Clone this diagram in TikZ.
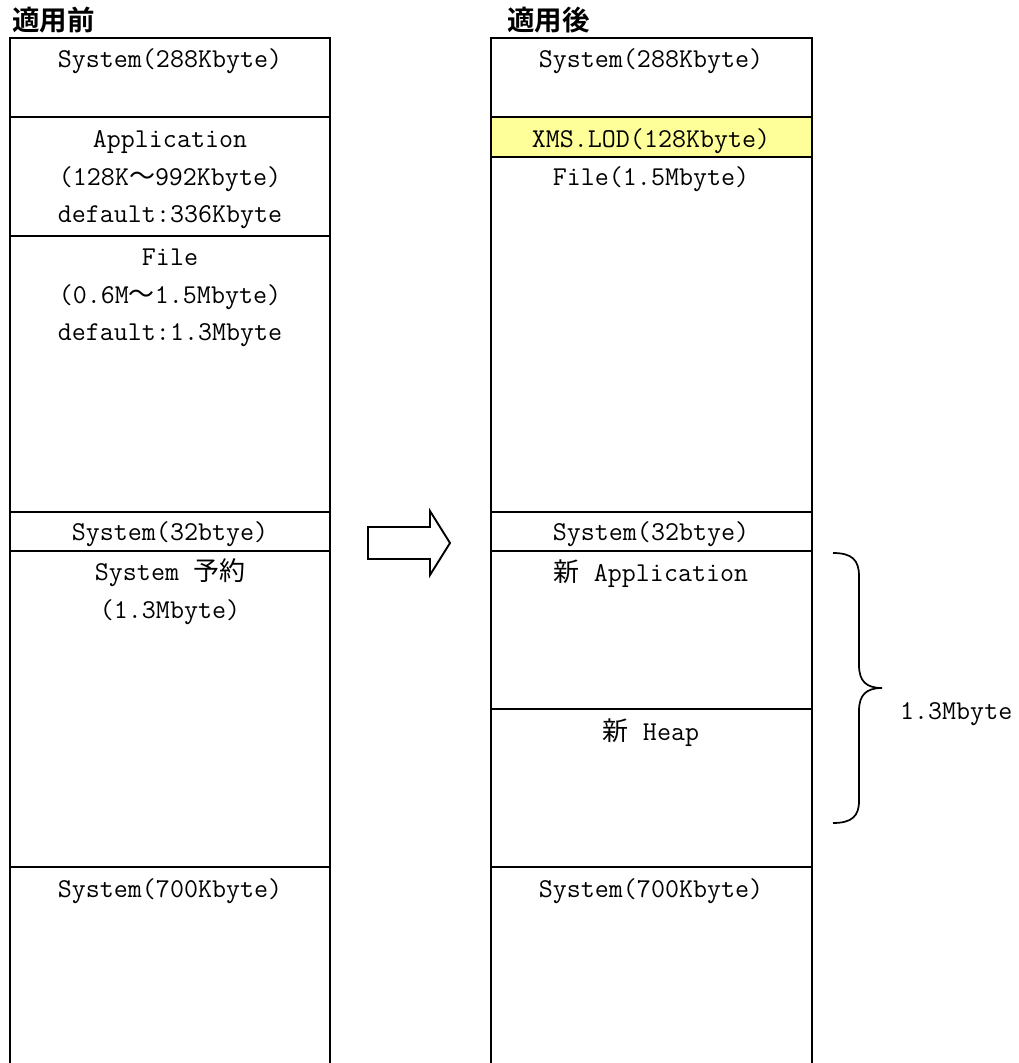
\documentclass[tikz,border=0pt]{standalone}
\usepackage{fontspec}
\newfontfamily\cjkf{Noto Sans CJK JP}[BoldFont={Noto Sans CJK JP Bold}]
\newcommand\jc[1]{{\cjkf\fontsize{26}{30}\selectfont #1}}
\definecolor{xmsyellow}{RGB}{255,255,153}
\begin{document}
\begin{tikzpicture}[x=1pt,y=-1pt,
  box/.style={line width=2.7pt, line join=miter},
  sep/.style={line width=2.7pt},
  lbl/.style={font=\ttfamily\fontsize{27.2}{30}\selectfont, anchor=base, inner sep=0pt},
  head/.style={font=\cjkf\bfseries\fontsize{27.5}{30}\selectfont, anchor=base west, inner sep=0pt},
  bigarrow/.style={line width=1.9pt, fill=white, line join=miter},
  bracepath/.style={line width=1.7pt}]
\useasboundingbox (0,0) rectangle (1019,1063);
% headings
\node[head] (hL) at (12,30) {適用前};
\node[head] (hR) at (507,30) {適用後};
% yellow band
\fill[xmsyellow] (491,117) rectangle (812,157);
% left column
\draw[box] (10,1065) -- (10,38) -- (330,38) -- (330,1065);
\foreach \yy in {117,236,512,551,867} \draw[sep] (10,\yy) -- (330,\yy);
% right column
\draw[box] (491,1065) -- (491,38) -- (812,38) -- (812,1065);
\foreach \yy in {117,157,512,551,709,867} \draw[sep] (491,\yy) -- (812,\yy);
% left labels
\node[lbl] (l1) at (170,67) {System(288Kbyte)};
\node[lbl] (l2a) at (170,147) {Application};
\node[lbl] (l2b) at (170,185) {(128K\jc{～}992Kbyte)};
\node[lbl] (l2c) at (170,222) {default:336Kbyte};
\node[lbl] (l3a) at (170,265) {File};
\node[lbl] (l3b) at (170,303) {(0.6M\jc{～}1.5Mbyte)};
\node[lbl] (l3c) at (170,340) {default:1.3Mbyte};
\node[lbl] (l4) at (170,540) {System(32btye)};
\node[lbl] (l5a) at (170,580) {System \jc{予約}};
\node[lbl] (l5b) at (170,618) {(1.3Mbyte)};
\node[lbl] (l6) at (170,897) {System(700Kbyte)};
% right labels
\node[lbl] (r1) at (651,67) {System(288Kbyte)};
\node[lbl] (r2) at (651,147) {XMS.LOD(128Kbyte)};
\node[lbl] (r3) at (651,185) {File(1.5Mbyte)};
\node[lbl] (r4) at (651,540) {System(32btye)};
\node[lbl] (r5) at (651,581) {\jc{新} Application};
\node[lbl] (r6) at (651,740) {\jc{新} Heap};
\node[lbl] (r7) at (651,897) {System(700Kbyte)};
% arrow
\draw[bigarrow] (368,527) -- (430,527) -- (430,511) -- (450,543) -- (430,575) -- (430,559) -- (368,559) -- cycle;
% brace
\draw[bracepath] (833,553) .. controls (852,553) and (859,560) .. (859,576)
  -- (859,665) .. controls (859,681) and (866,688) .. (882,688)
  .. controls (866,688) and (859,695) .. (859,711)
  -- (859,801) .. controls (859,816) and (852,823) .. (833,823);
\coordinate (tip) at (882,688);
\node[lbl, anchor=base west] (sz) at (900,719) {1.3Mbyte};
\end{tikzpicture}
\end{document}
